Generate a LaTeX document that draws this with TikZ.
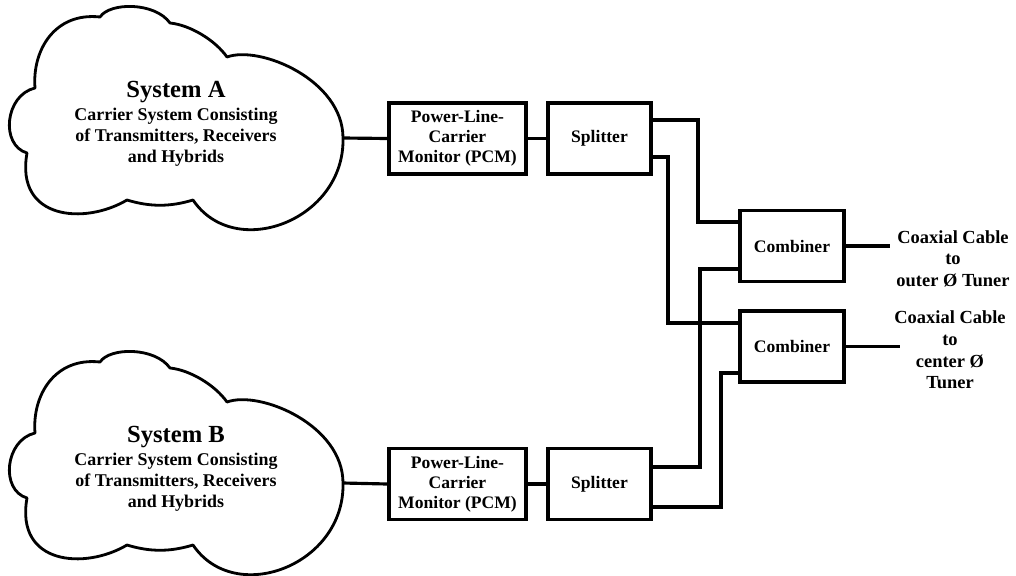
\documentclass[tikz,border=0pt]{standalone}
\usepackage{fontspec}
\setmainfont{Liberation Serif}
\begin{document}
\begin{tikzpicture}[x=0.02cm,y=-0.02cm,
    box/.style={draw, line width=2pt, align=center, inner sep=0pt, minimum height=1.42cm,
      font=\fontsize{10}{11.5}\selectfont\bfseries},
    lbl/.style={align=center, inner sep=0pt, font=\fontsize{10.5}{12.3}\selectfont\bfseries},
    wire/.style={line width=1.8pt},
    cloudline/.style={line width=1.6pt, line join=round}]
  \useasboundingbox (0,0) rectangle (1016,575);

  % the two clouds
  \foreach \dy/\nm in {0/A,345/B}{
    \begin{scope}[shift={(0,\dy)}]
      \draw[cloudline] (35,88) .. controls (32,50) and (55,12) .. (100,17)
        .. controls (110,2) and (155,2) .. (170,23)
        .. controls (190,25) and (215,40) .. (227,57)
        .. controls (260,45) and (343,80) .. (343,138)
        .. controls (345,220) and (235,262) .. (193,200)
        .. controls (170,207) and (150,207) .. (127,200)
        .. controls (85,225) and (15,220) .. (27,153)
        .. controls (0,145) and (5,95) .. (35,88) -- cycle;
      \coordinate (cloud\nm) at (343,138);
      \node[font=\fontsize{14}{16}\selectfont\bfseries] (title\nm) at (176,92) {System \nm};
      \node[lbl, font=\fontsize{10.2}{12}\selectfont\bfseries] (desc\nm) at (176,137)
        {Carrier System Consisting\\of Transmitters, Receivers\\and Hybrids};
    \end{scope}
  }

  % boxes
  \node[box, minimum width=2.74cm] (pcmA) at (457.5,138.5) {Power-Line-\\Carrier\\Monitor (PCM)};
  \node[box, minimum width=2.06cm] (splA) at (599.5,138.5) {Splitter};
  \node[box, minimum width=2.08cm] (combA) at (792,246) {Combiner};
  \node[box, minimum width=2.08cm] (combB) at (792,346.5) {Combiner};
  \node[box, minimum width=2.74cm] (pcmB) at (457.5,484) {Power-Line-\\Carrier\\Monitor (PCM)};
  \node[box, minimum width=2.06cm] (splB) at (599.5,484) {Splitter};

  % wires
  \draw[wire] (cloudA) -- (pcmA.west);
  \draw[wire] (pcmA) -- (splA);
  \draw[wire] (cloudB) -- (pcmB.west);
  \draw[wire] (pcmB) -- (splB);

  \draw[wire] (splA.east |- 0,120) -| (698,222) -- (combA.west |- 0,222);
  \draw[wire] (splA.east |- 0,157) -| (668,323) -- (combB.west |- 0,323);
  \draw[wire] (splB.east |- 0,467) -| (700,269) -- (combA.west |- 0,269);
  \draw[wire] (splB.east |- 0,507) -| (721,373) -- (combB.west |- 0,373);

  % outputs
  \coordinate (outA) at (890,246);
  \coordinate (outB) at (900,346.5);
  \draw[wire] (combA.east) -- (outA);
  \draw[wire] (combB.east) -- (outB);
  \node[lbl] (coaxA) at (953,258.5) {Coaxial Cable\\to\\outer Ø Tuner};
  \node[lbl] (coaxB) at (950,350) {Coaxial Cable\\to\\center Ø\\Tuner};
\end{tikzpicture}
\end{document}
